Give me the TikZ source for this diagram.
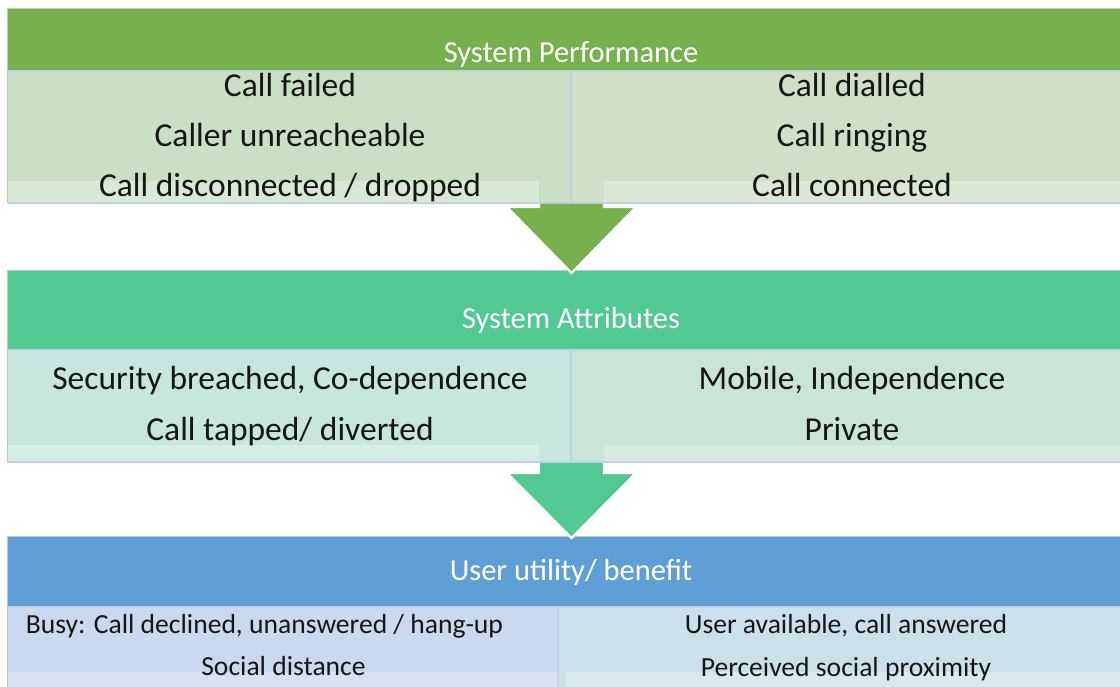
\documentclass[tikz,border=0pt]{standalone}
\usepackage{fontspec}
\setmainfont{Carlito}
\definecolor{framegray}{HTML}{C6C6C6}
\definecolor{paneline}{HTML}{C4D1E4}
\definecolor{textblack}{HTML}{161616}
% band 1 (green)
\definecolor{gA}{HTML}{77B04C}
\definecolor{pAl}{HTML}{C9E0C5}
\definecolor{pAr}{HTML}{CFE0C7}
\definecolor{sAl}{HTML}{DAE8D6}
\definecolor{sAr}{HTML}{DCE7D5}
% band 2 (teal)
\definecolor{gB}{HTML}{52C893}
\definecolor{pBl}{HTML}{C6E6DE}
\definecolor{pBr}{HTML}{C9E5D6}
\definecolor{sBl}{HTML}{D6EDE7}
\definecolor{sBr}{HTML}{D6EADF}
% band 3 (blue)
\definecolor{gC}{HTML}{5F9FD6}
\definecolor{pCl}{HTML}{C9D9EF}
\definecolor{pCr}{HTML}{CAE0EB}
\definecolor{sCl}{HTML}{D8E2F1}
\definecolor{sCr}{HTML}{D8E9F0}
\begin{document}
\begin{tikzpicture}[x=1pt,y=-1pt,
  frame/.style={draw=framegray,line width=1pt},
  paneedge/.style={draw=paneline,line width=1.2pt},
  headtext/.style={text=white,anchor=base,inner sep=0pt,font=\fontsize{30.5}{30.5}\selectfont},
  itemtext/.style={text=textblack,anchor=base,inner sep=0pt,font=\fontsize{33.5}{33.5}\selectfont},
  smalltext/.style={text=textblack,anchor=base,inner sep=0pt,font=\fontsize{27.6}{27.6}\selectfont},
  flowarrow/.style={line width=2.2pt,draw=white,line join=miter}]
\useasboundingbox (0,0) rectangle (1120,687);
\fill[white] (0,0) rectangle (1120,687);

% ---------- band 1: System Performance ----------
\fill[gA] (8,9.5) rectangle (1125,70.5);
\fill[pAl] (8,70.5) rectangle (571,203);
\fill[pAr] (571,70.5) rectangle (1125,203);
\fill[sAl] (8,181) rectangle (539,203);
\fill[sAr] (604,181) rectangle (1125,203);
\draw[paneedge] (8,71) -- (1125,71);
\draw[paneedge] (571,71) -- (571,203);
\draw[paneedge] (8,203) -- (1125,203);
\draw[frame] (7.5,203.5) -- (7.5,9) -- (1125,9);
\node[headtext] (h1) at (571,63) {System Performance};
\node[itemtext] (a1) at (290,96.5) {Call failed};
\node[itemtext] (a2) at (290,146.5) {Caller unreacheable};
\node[itemtext] (a3) at (290,196.5) {Call disconnected / dropped};
\node[itemtext] (b1) at (852,96.5) {Call dialled};
\node[itemtext] (b2) at (852,146.5) {Call ringing};
\node[itemtext] (b3) at (852,196.5) {Call connected};

% ---------- band 2: System Attributes ----------
\fill[gB] (8,271.5) rectangle (1125,349.5);
\fill[pBl] (8,349.5) rectangle (571,462);
\fill[pBr] (571,349.5) rectangle (1125,462);
\fill[sBl] (8,445) rectangle (539,462);
\fill[sBr] (604,445) rectangle (1125,462);
\draw[paneedge] (8,350) -- (1125,350);
\draw[paneedge] (571,350) -- (571,462);
\draw[paneedge] (8,462) -- (1125,462);
\draw[frame] (7.5,462.5) -- (7.5,271) -- (1125,271);
\node[headtext] (h2) at (571,328) {System Attributes};
\node[itemtext] (c1) at (290,389) {Security breached, Co-dependence};
\node[itemtext] (c2) at (290,440) {Call tapped/ diverted};
\node[itemtext] (d1) at (852,389) {Mobile, Independence};
\node[itemtext] (d2) at (852,440) {Private};

% ---------- band 3: User utility / benefit ----------
\fill[gC] (8,536.5) rectangle (1125,606.5);
\fill[pCl] (8,606.5) rectangle (558,690);
\fill[pCr] (558,606.5) rectangle (1125,690);
\fill[sCl] (8,672) rectangle (558,690);
\fill[sCr] (566,672) rectangle (1125,690);
\draw[paneedge] (8,607) -- (1125,607);
\draw[paneedge] (558,607) -- (558,690);
\draw[frame] (7.5,690) -- (7.5,536) -- (1125,536);
\node[headtext] (h3) at (571,580.5) {User utility/ benefit};
\node[smalltext] (e1) at (264.5,633) {Busy: Call declined, unanswered / hang-up};
\node[smalltext] (e2) at (283.5,675) {Social distance};
\node[smalltext] (f1) at (846,633) {User available, call answered};
\node[smalltext] (f2) at (846,676) {Perceived social proximity};

% ---------- arrows between the bands ----------
\coordinate (t1) at (571.5,273);
\coordinate (t2) at (571.5,538);
\fill[gA] (539,204) -- (539,207) -- (507,207) -- (t1) -- (636,207) -- (604,207) -- (604,204) -- cycle;
\draw[flowarrow] (539,204) -- (539,207) -- (507,207) -- (t1) -- (636,207) -- (604,207) -- (604,204);
\fill[gB] (539,463) -- (539,473) -- (507,473) -- (t2) -- (636,473) -- (604,473) -- (604,463) -- cycle;
\draw[flowarrow] (539,463) -- (539,473) -- (507,473) -- (t2) -- (636,473) -- (604,473) -- (604,463);
\end{tikzpicture}
\end{document}
